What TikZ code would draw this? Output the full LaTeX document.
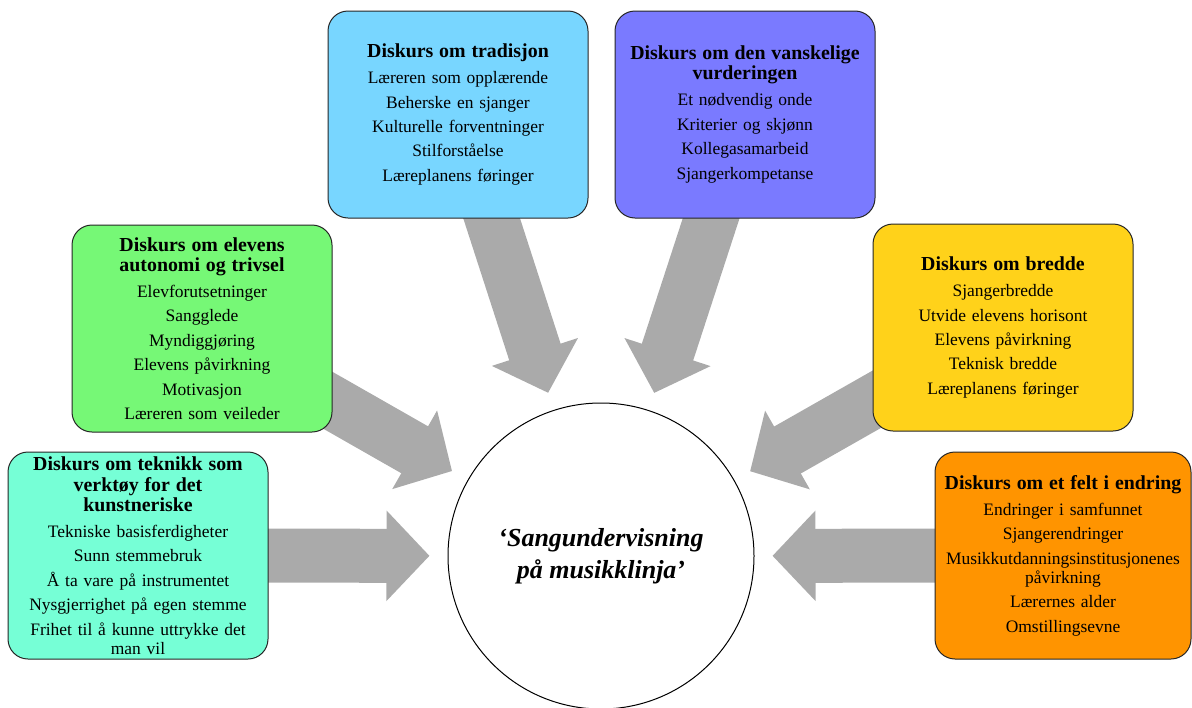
\documentclass[tikz,border=0pt]{standalone}
\usepackage{fontspec}
\setmainfont{Liberation Serif}
\usetikzlibrary{arrows.meta}
\pgfdeclarelayer{bg}
\pgfsetlayers{bg,main}
\definecolor{teknikkfarge}{HTML}{76FFD6}
\definecolor{autonomifarge}{HTML}{76F876}
\definecolor{tradisjonfarge}{HTML}{78D6FF}
\definecolor{vurderingfarge}{HTML}{7A7AFF}
\definecolor{breddefarge}{HTML}{FFD21A}
\definecolor{endringfarge}{HTML}{FF9400}
\definecolor{pilfarge}{HTML}{AAAAAA}
\newcommand{\tittel}[1]{{\bfseries\fontsize{14.9}{15}\selectfont #1}}
\newcommand{\ny}{\\[4.1pt]}

\begin{document}
\begin{tikzpicture}[x=0.75pt, y=-0.75pt,
  diskurs/.style={draw=black!85, line width=0.75pt, rounded corners=15pt,
    minimum width=195pt, minimum height=155.25pt, text width=188pt,
    align=center, inner sep=0pt, font=\fontsize{13.1}{14.25}\selectfont},
  blokkpil/.style={draw=pilfarge, line width=40.5pt,
    -{Triangle[width=66pt, length=32.25pt]}, shorten >=13.5pt}]
\useasboundingbox (0,0) rectangle (1192,707);

\node[diskurs, fill=teknikkfarge] (teknikk) at (138,555.5) {\tittel{Diskurs om teknikk som\\[0.75pt] verktøy for det\\[0.75pt] kunstneriske}\\[5.25pt]
  Tekniske basisferdigheter\ny Sunn stemmebruk\ny Å ta vare på instrumentet\ny Nysgjerrighet på egen stemme\ny Frihet til å kunne uttrykke det\\ man vil};
\node[diskurs, fill=autonomifarge] (autonomi) at (202,328.5) {\tittel{Diskurs om elevens\\[0.75pt] autonomi og trivsel}\\[5.25pt]
  Elevforutsetninger\ny Sangglede\ny Myndiggjøring\ny Elevens påvirkning\ny Motivasjon\ny Læreren som veileder};
\node[diskurs, fill=tradisjonfarge] (tradisjon) at (458,114.5) {\tittel{Diskurs om tradisjon}\\[5.25pt]
  Læreren som opplærende\ny Beherske en sjanger\ny Kulturelle forventninger\ny Stilforståelse\ny Læreplanens føringer};
\node[diskurs, fill=vurderingfarge] (vurdering) at (745,114.5) {\tittel{Diskurs om den vanskelige\\[0.75pt] vurderingen}\\[5.25pt]
  Et nødvendig onde\ny Kriterier og skjønn\ny Kollegasamarbeid\ny Sjangerkompetanse};
\node[diskurs, fill=breddefarge] (bredde) at (1003,327.5) {\tittel{Diskurs om bredde}\\[5.25pt]
  Sjangerbredde\ny Utvide elevens horisont\ny Elevens påvirkning\ny Teknisk bredde\ny Læreplanens føringer};
\node[diskurs, fill=endringfarge, minimum width=192pt] (endring) at (1063,555.5) {\tittel{Diskurs om et felt i endring}\\[5.25pt]
  Endringer i samfunnet\ny Sjangerendringer\ny Musikkutdanningsinstitusjonenes\\ påvirkning\ny Lærernes alder\ny Omstillingsevne};

\node[circle, draw, line width=0.75pt, minimum size=229.5pt, align=center,
  font=\bfseries\itshape\fontsize{19.5}{24}\selectfont] (sang) at (601,556) {‘Sangundervisning\\ på musikklinja’};

\begin{pgfonlayer}{bg}
\draw
	(teknikk.center) edge[blokkpil] (sang)
	(autonomi.center) edge[blokkpil] (sang)
	(tradisjon.center) edge[blokkpil] (sang)
	(vurdering.center) edge[blokkpil] (sang)
	(bredde.center) edge[blokkpil] (sang)
	(endring.center) edge[blokkpil] (sang)
;
\end{pgfonlayer}
\end{tikzpicture}
\end{document}
